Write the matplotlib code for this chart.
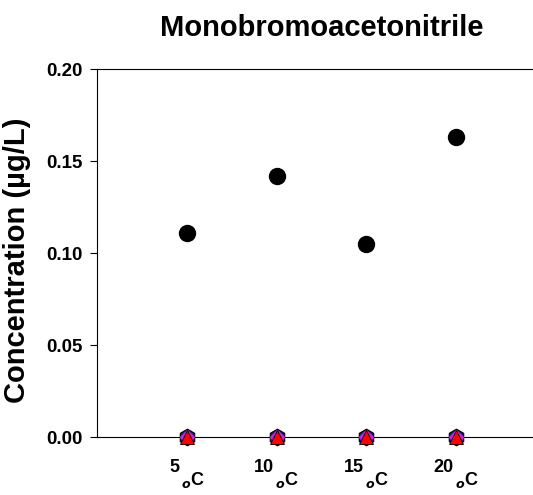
import numpy as np
import matplotlib
matplotlib.use("Agg")
import matplotlib.pyplot as plt
from matplotlib import font_manager
from matplotlib.offsetbox import TextArea, HPacker, VPacker, DrawingArea, AnnotationBbox

# data
temps = [5, 10, 15, 20]
conc_circle = [0.111, 0.142, 0.105, 0.163]
conc_hexagon = [0.0, 0.0, 0.0, 0.0]
conc_diamond = [0.0, 0.0, 0.0, 0.0]
conc_triangle = [0.0, 0.0, 0.0, 0.0]
yticks = [0.00, 0.05, 0.10, 0.15, 0.20]

names = {f.name for f in font_manager.fontManager.ttflist}
if "Liberation Sans Narrow" in names:
    narrow, title_size, xt_size = "Liberation Sans Narrow", 25, 15
else:
    narrow, title_size, xt_size = "Liberation Sans", 21, 13

plt.rcParams["font.family"] = ["Liberation Sans", "DejaVu Sans"]
plt.rcParams["font.weight"] = "bold"
plt.rcParams["mathtext.fontset"] = "custom"
plt.rcParams["mathtext.rm"] = "Liberation Sans:bold"
plt.rcParams["mathtext.bf"] = "Liberation Sans:bold"

fig = plt.figure(figsize=(5.33, 4.95), dpi=100)
ax = fig.add_axes([97 / 533, 58 / 495, 449 / 533, 368 / 495])

x = np.arange(1, len(temps) + 1)
ax.plot(x, conc_circle, "o", color="black", markersize=11.5, clip_on=False, zorder=5)
ax.plot(x, conc_hexagon, "h", markerfacecolor="#1a1a80", markeredgecolor="black",
        markersize=12, markeredgewidth=0.8, clip_on=False, zorder=5)
ax.plot(x, conc_diamond, "D", markerfacecolor="#d020d0", markeredgecolor="#d020d0",
        markersize=7, clip_on=False, zorder=6)
ax.plot(x, conc_triangle, "^", markerfacecolor="red", markeredgecolor="black",
        markersize=10, markeredgewidth=0.6, clip_on=False, zorder=7)

ax.set_xlim(0, 5)
ax.set_ylim(0, 0.20)
ax.set_yticks(yticks)
ax.set_yticklabels([f"{v:.2f}" for v in yticks], fontsize=13.5, fontweight="bold")
ax.set_xticks(x)
ax.set_xticklabels([])
ax.tick_params(axis="both", direction="out", length=5, width=0.8, pad=5, colors="black")
for s in ax.spines.values():
    s.set_linewidth(0.8)
    s.set_color("black")

# x labels: number followed by a lowered "oC"
for xi, t in zip(x, temps):
    num = TextArea(str(t), textprops=dict(fontsize=xt_size, fontweight="bold", family=narrow))
    unit = TextArea(r"$_{o}$C", textprops=dict(fontsize=xt_size, fontweight="bold", family=narrow))
    unit_low = VPacker(children=[DrawingArea(1, 8), unit], sep=0, pad=0, align="left")
    box = HPacker(children=[num, unit_low], sep=1, pad=0, align="top")
    ab = AnnotationBbox(box, (xi, 0), xycoords=("data", "axes fraction"),
                        xybox=(0, -16), boxcoords="offset points",
                        box_alignment=(0.5, 1), frameon=False, pad=0)
    ax.add_artist(ab)

fig.text(17 / 533, 1 - 260 / 495, "Concentration (\u00b5g/L)", fontsize=21,
         fontweight="bold", rotation=90, ha="center", va="center")
ax.set_title("Monobromoacetonitrile", fontsize=title_size, fontweight="bold",
             family=narrow, pad=24, x=0.5)

fig.savefig("out.png", dpi=100)
